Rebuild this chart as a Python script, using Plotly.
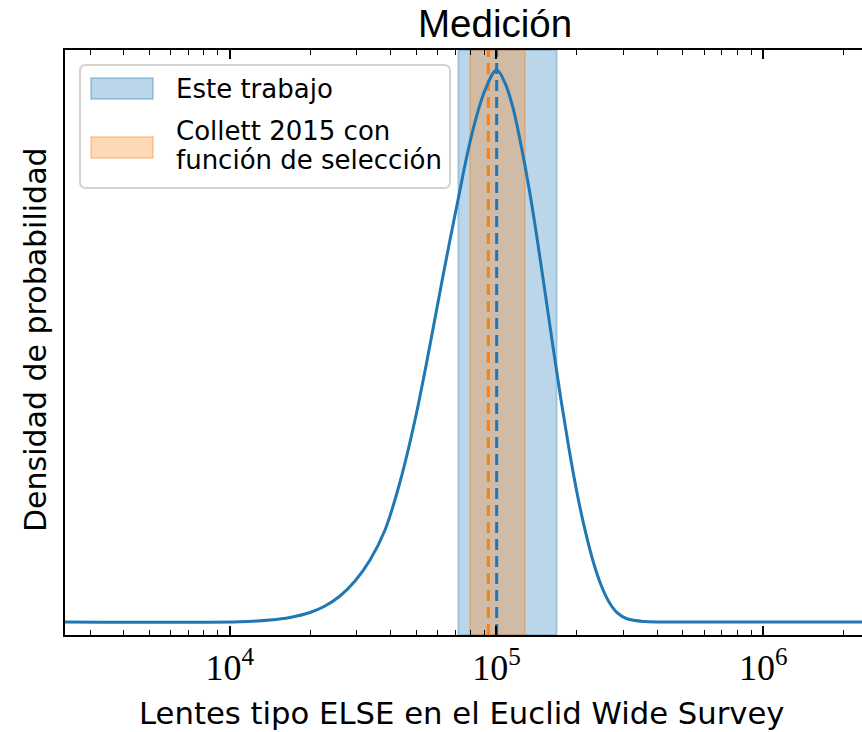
import plotly.graph_objects as go

# ---- data ----
curve_x = [2000, 10930, 14160, 16830, 20000, 22760, 25910, 29500, 33570, 38210, 43490,
           49490, 56330, 61390, 66930, 71740, 76890, 82710, 90950, 100160,
           107630, 115330, 123560, 132400, 141870, 152020, 162890, 174550, 187030,
           200400, 214680, 230040, 246510, 264140, 283030, 308540, 360400, 487530, 2500000]
curve_y = [0.0, 0.0005, 0.0036, 0.0082, 0.0172, 0.0290, 0.0471, 0.0743, 0.1123, 0.1667, 0.2536,
           0.3659, 0.5018, 0.5978, 0.6920, 0.7645, 0.8370, 0.9022, 0.9656, 1.0,
           0.9764, 0.9312, 0.8641, 0.7862, 0.6957, 0.5978, 0.4982, 0.4022, 0.3134,
           0.2337, 0.1667, 0.1105, 0.0670, 0.0362, 0.0170, 0.0058, 0.0008, 0.0, 0.0]

este_lo, este_med, este_hi = 71950, 100160, 168100
collett_lo, collett_med, collett_hi = 79570, 93180, 127900

x_major = [1e4, 1e5, 1e6]
x_major_text = ["10<sup>4</sup>", "10<sup>5</sup>", "10<sup>6</sup>"]
x_minor = [m * 10 ** e for e in (3, 4, 5, 6) for m in range(2, 10)]

legend_labels = ["Este trabajo", "Collett 2015 con", "función de selección"]

BLUE = "#1f77b4"
ORANGE = "#ff7f0e"
BLUE_A = "rgba(31,119,180,0.3)"
ORANGE_A = "rgba(255,127,14,0.3)"

W, H = 862, 732
L, R, T, B = 65, 0, 50, 97
PW, PH = W - L - R, H - T - B


def px(xp):
    return (xp - L) / PW


def py(yp):
    return (H - B - yp) / PH


fig = go.Figure()

# bands on the primary (full-height, 0..1) axis
for lo, hi, col in [(este_lo, este_hi, BLUE_A), (collett_lo, collett_hi, ORANGE_A)]:
    fig.add_trace(go.Scatter(x=[lo, lo, hi, hi, lo], y=[0, 1, 1, 0, 0],
                             mode="lines", fill="toself", fillcolor=col,
                             line=dict(color=col, width=2), hoverinfo="skip",
                             showlegend=False))

for med, col in [(collett_med, ORANGE), (este_med, BLUE)]:
    fig.add_trace(go.Scatter(x=[med, med], y=[0, 1], mode="lines",
                             line=dict(color=col, width=3, dash="11px,6px"),
                             showlegend=False, hoverinfo="skip"))

# density curve on overlay axis (drawn on top)
fig.add_trace(go.Scatter(x=curve_x, y=curve_y, yaxis="y2", mode="lines",
                         line=dict(color=BLUE, width=3, shape="spline", smoothing=1.0),
                         showlegend=False))

LABEL_FONT = "DejaVu Sans, sans-serif"

fig.update_layout(
    width=W, height=H,
    margin=dict(l=L, r=R, t=T, b=B),
    paper_bgcolor="white", plot_bgcolor="white",
    showlegend=False,
    xaxis=dict(type="log", range=[3.3827, 6.370], showgrid=False, zeroline=False,
               showline=True, linecolor="black", linewidth=2, mirror="ticks",
               ticks="inside", ticklen=9, tickwidth=1.5, tickcolor="black",
               tickmode="array", tickvals=x_major, ticktext=x_major_text,
               tickfont=dict(family="Liberation Serif, DejaVu Serif, serif", size=36, color="black"),
               minor=dict(ticks="inside", ticklen=5, tickwidth=1.3, tickcolor="black",
                          tickmode="array", tickvals=x_minor, showgrid=False)),
    yaxis=dict(range=[0, 1], showgrid=False, zeroline=False,
               showline=True, linecolor="black", linewidth=2, mirror=False,
               showticklabels=False, ticks="", fixedrange=True),
    yaxis2=dict(range=[-0.0236, 1.0362], overlaying="y", visible=False),
)

# title
fig.add_annotation(text="Medición", xref="paper", yref="paper", x=px(495), y=py(24),
                   showarrow=False, xanchor="center", yanchor="middle",
                   font=dict(family="Liberation Sans, Arial, sans-serif", size=38.5, color="black"))
# x label
fig.add_annotation(text="Lentes tipo ELSE en el Euclid Wide Survey", xref="paper", yref="paper",
                   x=px(462), y=py(713), showarrow=False, xanchor="center", yanchor="middle",
                   font=dict(family=LABEL_FONT, size=30.7, color="black"))
# y label
fig.add_annotation(text="Densidad de probabilidad", xref="paper", yref="paper",
                   x=px(35), y=py(340), showarrow=False, xanchor="center", yanchor="middle",
                   textangle=-90, font=dict(family=LABEL_FONT, size=30, color="black"))

# legend box (rounded)
x0, x1, y0, y1, r = 80, 450, 65, 188, 6
path = (f"M {px(x0 + r)},{py(y0)} L {px(x1 - r)},{py(y0)} Q {px(x1)},{py(y0)} {px(x1)},{py(y0 + r)} "
        f"L {px(x1)},{py(y1 - r)} Q {px(x1)},{py(y1)} {px(x1 - r)},{py(y1)} "
        f"L {px(x0 + r)},{py(y1)} Q {px(x0)},{py(y1)} {px(x0)},{py(y1 - r)} "
        f"L {px(x0)},{py(y0 + r)} Q {px(x0)},{py(y0)} {px(x0 + r)},{py(y0)} Z")
fig.add_shape(type="path", path=path, xref="paper", yref="paper",
              fillcolor="rgba(255,255,255,0.8)", line=dict(color="#d3d3d3", width=2), layer="above")
for (ya, yb), col in [((78, 99), BLUE_A), ((137, 158), ORANGE_A)]:
    fig.add_shape(type="rect", xref="paper", yref="paper", x0=px(91), x1=px(153),
                  y0=py(yb), y1=py(ya), fillcolor=col, line=dict(color=col, width=2), layer="above")
for lab, yc in zip(legend_labels, [89, 131, 160]):
    fig.add_annotation(text=lab, xref="paper", yref="paper", x=px(174), y=py(yc),
                       showarrow=False, xanchor="left", yanchor="middle",
                       font=dict(family=LABEL_FONT, size=26, color="black"))

fig.write_html("out.html", config={"displayModeBar": False},
               post_script="document.body.style.margin='0';")
